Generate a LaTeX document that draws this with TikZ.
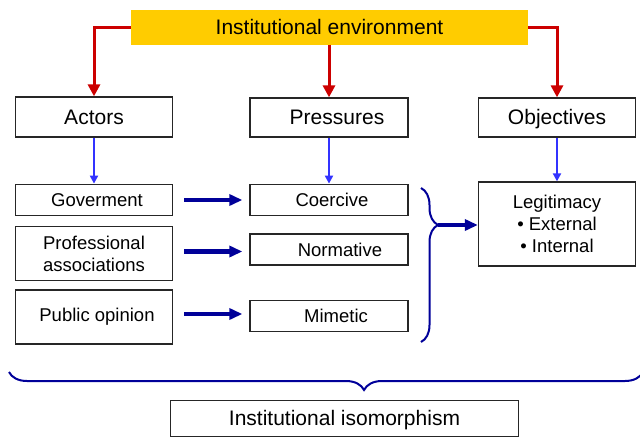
\documentclass[tikz,border=0pt]{standalone}
\usepackage{fontspec}
\setmainfont{Liberation Sans}
\usetikzlibrary{arrows.meta,decorations.pathreplacing,calc}
\definecolor{envyellow}{HTML}{FFCC00}
\definecolor{redarrow}{HTML}{CC0000}
\definecolor{bluearrow}{HTML}{3333FF}
\definecolor{navyarrow}{HTML}{000099}
\tikzset{
  box/.style={draw=black!85, line width=1.3pt, fill=white, inner sep=0pt, align=center},
  bigtext/.style={font=\fontsize{21}{25}\selectfont, text height=15pt, text depth=1pt},
  smalltext/.style={font=\fontsize{18.5}{22}\selectfont},
  redarr/.style={draw=redarrow, line width=3pt, -{Triangle[width=12pt,length=12pt]}},
  bluearr/.style={draw=bluearrow, line width=2.2pt, -{Triangle[width=8pt,length=8pt]}},
  navyarr/.style={draw=navyarrow, line width=4.5pt, -{Triangle[width=11pt,length=13pt]}},
  bracestyle/.style={draw=navyarrow, line width=2pt}
}
\begin{document}
\begin{tikzpicture}[x=1pt,y=-1pt]
\useasboundingbox (0,0) rectangle (640,437);
% top
\node[fill=envyellow, inner sep=0pt, minimum width=397pt, minimum height=35pt, bigtext] (env) at (329.5,27) {Institutional environment};
% headers
\node[box, bigtext, minimum width=157pt, minimum height=40pt] (actors) at (94,117) {Actors};
\node[box, bigtext, minimum width=158pt, minimum height=39pt] (pressures) at (329,117.5) {\hspace*{16pt}Pressures};
\node[box, bigtext, minimum width=157pt, minimum height=39pt] (objectives) at (557,117.5) {Objectives};
% actors
\node[box, smalltext, minimum width=157pt, minimum height=31.5pt] (gov) at (94,200) {\hspace*{6pt}Goverment};
\node[box, smalltext, minimum width=157pt, minimum height=54pt] (prof) at (94,253.5) {Professional\\associations};
\node[box, smalltext, minimum width=157pt, minimum height=54pt] (pub) at (94,317) {\hspace*{6pt}Public opinion};
% pressures
\node[box, smalltext, minimum width=158pt, minimum height=31.5pt] (coer) at (329,200) {\hspace*{6pt}Coercive};
\node[box, smalltext, minimum width=158pt, minimum height=31pt] (norm) at (329,249.5) {\hspace*{22pt}Normative};
\node[box, smalltext, minimum width=158pt, minimum height=31.5pt] (mim) at (329,316) {\hspace*{14pt}Mimetic};
% objectives
\node[box, smalltext, minimum width=157pt, minimum height=84pt] (legit) at (557,224) {Legitimacy\\\textbullet\ External\\\textbullet\ Internal};
% bottom
\node[box, bigtext, minimum width=348pt, minimum height=36pt] (iso) at (344.5,418.5) {Institutional isomorphism};
% red arrows
\draw[redarr] (env.west) -| (actors.north);
\draw[redarr] (env.south -| pressures.north) -- (pressures.north);
\draw[redarr] (env.east) -| (objectives.north);
% blue arrows
\draw[bluearr] (actors.south) -- (gov.north);
\draw[bluearr] (pressures.south) -- (coer.north);
\draw[bluearr] (objectives.south) -- (legit.north);
% navy arrows
\draw[navyarr] ([xshift=11pt]gov.east) -- ([xshift=-7pt]coer.west);
\draw[navyarr] ($(prof.east |- norm.west)+(11,2)$) -- ($(norm.west)+(-7,2)$);
\draw[navyarr] ($(pub.east |- mim.west)+(11,-2)$) -- ($(mim.west)+(-7,-2)$);
% right brace
\coordinate (bt) at (421,188);
\coordinate (bb) at (421,342);
\draw[bracestyle, decorate, decoration={brace, amplitude=17pt, aspect=0.24}] (bt) -- (bb);
\coordinate (btip) at (438,225);
\draw[navyarr] (btip) -- (btip -| legit.west);
% bottom brace
\coordinate (br) at (643,372);
\coordinate (bl) at (9,372);
\draw[bracestyle, decorate, decoration={brace, amplitude=18pt, aspect=0.44}] (br) -- (bl);
\end{tikzpicture}
\end{document}
